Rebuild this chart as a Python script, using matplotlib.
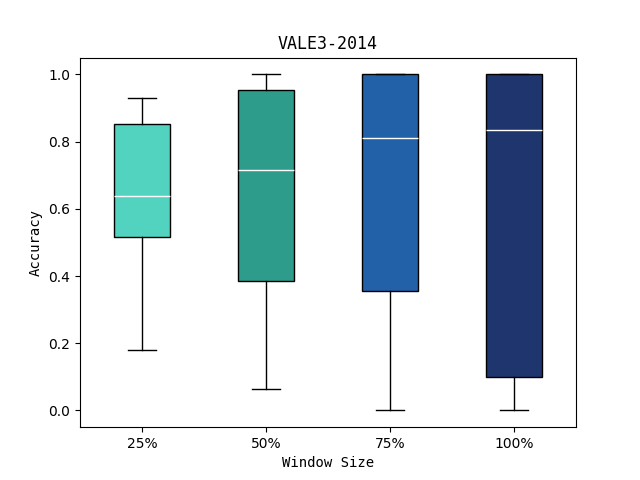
import matplotlib
matplotlib.use("Agg")
import matplotlib.pyplot as plt

labels = ["25%", "50%", "75%", "100%"]
whislo = [0.18, 0.065, 0.0, 0.0]
q1 = [0.515, 0.385, 0.355, 0.10]
med = [0.637, 0.715, 0.81, 0.835]
q3 = [0.853, 0.953, 1.0, 1.0]
whishi = [0.93, 1.0, 1.0, 1.0]
colors = ["#52d3c0", "#2e9c8a", "#2260a8", "#1f356e"]

stats = [dict(label=l, whislo=a, q1=b, med=c, q3=d, whishi=e, fliers=[])
         for l, a, b, c, d, e in zip(labels, whislo, q1, med, q3, whishi)]

fig, ax = plt.subplots(figsize=(6.4, 4.8), dpi=100)
bp = ax.bxp(stats, patch_artist=True, showfliers=False,
            medianprops=dict(color="white"))
for p, c in zip(bp["boxes"], colors):
    p.set_facecolor(c)
    p.set_edgecolor("black")
ax.set_title("VALE3-2014", family="DejaVu Sans Mono")
ax.set_xlabel("Window Size", family="DejaVu Sans Mono")
ax.set_ylabel("Accuracy", family="DejaVu Sans Mono")
fig.savefig("out.png")
